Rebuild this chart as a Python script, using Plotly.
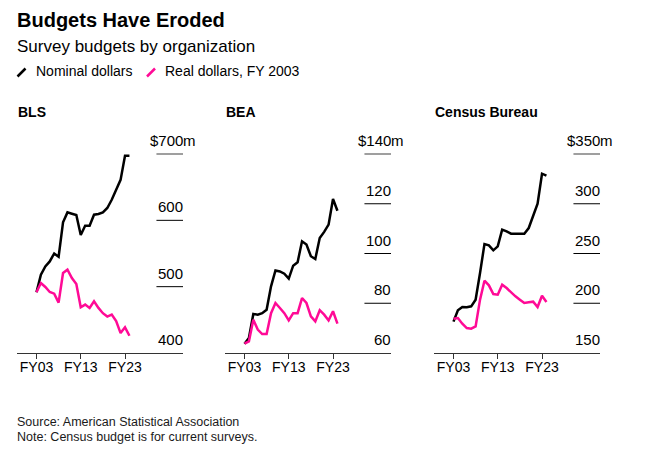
import plotly.graph_objects as go

years = list(range(2003, 2025))

bls_nominal = [491.5, 518, 530.6, 538, 550, 545, 597, 612, 610, 608, 578, 592,
               592, 608.5, 609.5, 612, 618.6, 631, 646, 661, 697.5, 697.5]
bls_real = [491.5, 505.5, 499.5, 492, 489.5, 476, 520.6, 525.6, 513, 504, 469, 473,
            468, 478, 468, 460, 455, 458, 448, 430, 438.7, 426]
bea_nominal = [63.75, 66, 75.7, 75.4, 76, 77.4, 86.8, 93.2, 92.8, 91.9, 89.9, 95.1,
               96.5, 104.9, 103.6, 98.9, 97.8, 106.2, 108.7, 111.6, 121.9, 117.2]
bea_real = [63.75, 64.7, 73.4, 69.4, 67.6, 67.6, 76, 80.1, 78.1, 76, 73.1, 76,
            76, 82.1, 80.1, 74.7, 72.7, 77.2, 75.4, 73.1, 76.8, 71.8]
census_nominal = [181.5, 192.9, 196.2, 195.9, 196.9, 203.6, 230.4, 259.5, 258.2, 253.2, 257.2, 274,
                  272.3, 269.9, 269.9, 269.9, 269.9, 275.6, 289, 300, 330.2, 328.2]
census_real = [184.5, 185.2, 179.5, 175.1, 174.5, 176.8, 203.6, 222.7, 218, 209.3, 208.6, 218.7,
               215.3, 211, 207, 203.6, 200.3, 200.9, 201.6, 196.2, 207.6, 201.3]

panel_titles = ["BLS", "BEA", "Census Bureau"]
bls_ticks = [400, 500, 600, 700]
bea_ticks = [60, 80, 100, 120, 140]
census_ticks = [150, 200, 250, 300, 350]
x_tickvals = [2003, 2013, 2023]
x_ticktext = ["FY03", "FY13", "FY23"]

W, H = 653, 462
MT, MB = 148, 109
PLOT_BOTTOM = H - MB
PLOT_H = H - MT - MB


def PX(x):
    return x / W


def PY(y):
    return (PLOT_BOTTOM - y) / PLOT_H


FONT = "Liberation Sans, Arial, Helvetica, sans-serif"
BLACK = "#000000"
PINK = "#ff0a96"

panels = [
    (bls_nominal, bls_real, bls_ticks, (17, 183)),
    (bea_nominal, bea_real, bea_ticks, (225, 391)),
    (census_nominal, census_real, census_ticks, (434, 600)),
]

fig = go.Figure()
annotations = []
shapes = []

for i, (nom, real, ticks, (x0, x1)) in enumerate(panels):
    sfx = "" if i == 0 else str(i + 1)
    xa, ya = "x" + sfx, "y" + sfx
    fig.add_trace(go.Scatter(x=years, y=nom, mode="lines", xaxis=xa, yaxis=ya,
                             line=dict(color=BLACK, width=2.5), showlegend=False,
                             hoverinfo="skip"))
    fig.add_trace(go.Scatter(x=years, y=real, mode="lines", xaxis=xa, yaxis=ya,
                             line=dict(color=PINK, width=2.5), showlegend=False,
                             hoverinfo="skip"))
    lo, hi = ticks[0], ticks[-1]
    span = hi - lo
    top = lo + span * PLOT_H / 199.0
    fig.layout["xaxis" + sfx] = dict(
        domain=[PX(x0), PX(x1)], range=[1998.6, 2036.1], anchor=ya,
        showgrid=False, zeroline=False, showline=True, linecolor="#333333", linewidth=1,
        ticks="outside", ticklen=5, tickcolor="#333333", tickwidth=1,
        tickvals=x_tickvals, ticktext=x_ticktext, ticklabelstandoff=-4,
        tickfont=dict(family=FONT, size=14, color=BLACK), fixedrange=True)
    fig.layout["yaxis" + sfx] = dict(
        domain=[0, 1], range=[lo, top], anchor=xa, visible=False, fixedrange=True)
    # gridlines
    for j, v in enumerate(ticks):
        if j > 0:
            is_top = j == len(ticks) - 1
            shapes.append(dict(type="line", xref=xa + " domain", yref=ya,
                               x0=0.84, x1=1.0, y0=v, y1=v,
                               line=dict(color="#7f7f7f" if is_top else BLACK,
                                         width=1.5 if is_top else 1)))
        label = ("$" + str(v)) if j == len(ticks) - 1 else str(v)
        annotations.append(dict(xref=xa + " domain", yref=ya, x=1.0, y=v,
                                text=label, showarrow=False, xanchor="right",
                                yanchor="bottom", yshift=3, xshift=2,
                                font=dict(family=FONT, size=15, color=BLACK)))
        if j == len(ticks) - 1:
            annotations.append(dict(xref=xa + " domain", yref=ya, x=1.0, y=v,
                                    text="m", showarrow=False, xanchor="left",
                                    yanchor="bottom", yshift=3, xshift=-2,
                                    font=dict(family=FONT, size=15, color=BLACK)))
    annotations.append(dict(xref="paper", yref="paper", x=PX(x0 - 1), y=PY(112),
                            text=panel_titles[i], showarrow=False, xanchor="left",
                            yanchor="middle",
                            font=dict(family=FONT, size=14, color=BLACK, weight="bold")))

# header texts
annotations += [
    dict(xref="paper", yref="paper", x=PX(15), y=PY(20.5), text="Budgets Have Eroded",
         showarrow=False, xanchor="left", yanchor="middle",
         font=dict(family=FONT, size=20, color=BLACK, weight="bold")),
    dict(xref="paper", yref="paper", x=PX(15), y=PY(46.7), text="Survey budgets by organization",
         showarrow=False, xanchor="left", yanchor="middle",
         font=dict(family=FONT, size=17, color=BLACK)),
    dict(xref="paper", yref="paper", x=PX(34), y=PY(71.5), text="Nominal dollars",
         showarrow=False, xanchor="left", yanchor="middle",
         font=dict(family=FONT, size=14, color=BLACK)),
    dict(xref="paper", yref="paper", x=PX(163), y=PY(71.5), text="Real dollars, FY 2003",
         showarrow=False, xanchor="left", yanchor="middle",
         font=dict(family=FONT, size=14, color=BLACK)),
    dict(xref="paper", yref="paper", x=PX(15), y=PY(422), text="Source: American Statistical Association",
         showarrow=False, xanchor="left", yanchor="middle",
         font=dict(family=FONT, size=12.5, color="#1a1a1a")),
    dict(xref="paper", yref="paper", x=PX(15), y=PY(437), text="Note: Census budget is for current surveys.",
         showarrow=False, xanchor="left", yanchor="middle",
         font=dict(family=FONT, size=12.5, color="#1a1a1a")),
]

# legend icons
shapes += [
    dict(type="line", xref="paper", yref="paper", x0=PX(17.5), y0=PY(76.5), x1=PX(25.5), y1=PY(68.5),
         line=dict(color=BLACK, width=2.5)),
    dict(type="line", xref="paper", yref="paper", x0=PX(147), y0=PY(76.5), x1=PX(155), y1=PY(68.5),
         line=dict(color=PINK, width=2.5)),
]

fig.update_layout(
    width=W, height=H, autosize=False,
    margin=dict(l=0, r=0, t=MT, b=MB, pad=0),
    paper_bgcolor="white", plot_bgcolor="white",
    annotations=annotations, shapes=shapes,
    font=dict(family=FONT, color=BLACK),
)

fig.write_html("out.html", config={"displayModeBar": False},
               post_script="document.body.style.margin='0';")
